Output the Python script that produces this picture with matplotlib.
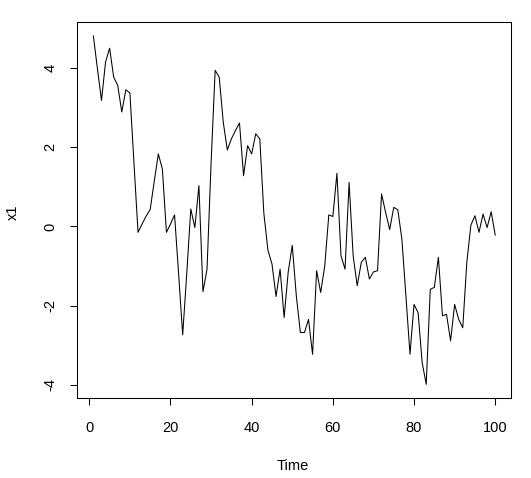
import matplotlib
matplotlib.use("Agg")
import matplotlib.pyplot as plt
import numpy as np

time = list(range(1, 101))
x1 = [4.81, 3.98, 3.18, 4.15, 4.50, 3.77, 3.56, 2.89, 3.45, 3.37,
      1.60, -0.15, 0.06, 0.26, 0.43, 1.14, 1.83, 1.45, -0.15, 0.06,
      0.29, -1.20, -2.74, -1.20, 0.44, -0.03, 1.03, -1.65, -1.08, 1.60,
      3.94, 3.77, 2.63, 1.93, 2.21, 2.42, 2.61, 1.28, 2.04, 1.83,
      2.34, 2.21, 0.33, -0.60, -0.95, -1.77, -1.08, -2.30, -1.15, -0.48,
      -1.76, -2.68, -2.68, -2.35, -3.23, -1.12, -1.67, -1.00, 0.29, 0.25,
      1.34, -0.74, -1.08, 1.11, -0.74, -1.50, -0.91, -0.78, -1.33, -1.15,
      -1.12, 0.82, 0.35, -0.08, 0.48, 0.42, -0.32, -1.76, -3.23, -1.97,
      -2.18, -3.44, -3.99, -1.59, -1.54, -0.78, -2.26, -2.22, -2.89, -1.97,
      -2.35, -2.56, -0.91, 0.03, 0.27, -0.15, 0.31, -0.03, 0.37, -0.22]
xticks = [0, 20, 40, 60, 80, 100]
yticks = [-4, -2, 0, 2, 4]

plt.rcParams['font.family'] = ['Liberation Sans', 'DejaVu Sans']
W, H = 531, 478
fig = plt.figure(figsize=(W / 100, H / 100), dpi=100)
L, R, T, B = 77.3, 511.3, 22.0, 398.3
ax = fig.add_axes([L / W, 1 - B / H, (R - L) / W, (B - T) / H])
ax.plot(time, x1, color='black', linewidth=0.75)

xmin, xmax = min(time), max(time)
ymin, ymax = min(x1), max(x1)
dx = (xmax - xmin) * 0.04
dy = (ymax - ymin) * 0.04
ax.set_xlim(xmin - dx, xmax + dx)
ax.set_ylim(ymin - dy, ymax + dy)
ax.set_xticks(xticks)
ax.set_yticks(yticks)
ax.set_xticklabels([str(v) for v in xticks])
ax.set_yticklabels([str(v) for v in yticks], rotation=90, va='center')
for s in ax.spines.values():
    s.set_linewidth(0.75)
ax.tick_params(axis='both', direction='out', length=5.2, width=0.75,
               labelsize=10.5, colors='black')
ax.tick_params(axis='x', pad=11)
ax.tick_params(axis='y', pad=9)

fig.text(293 / W, 1 - 466.5 / H, 'Time', ha='center', va='center', fontsize=10.5)
fig.text(13 / W, 1 - 212 / H, 'x1', ha='center', va='center', fontsize=10.5, rotation=90)

fig.savefig('out.png', dpi=100)
